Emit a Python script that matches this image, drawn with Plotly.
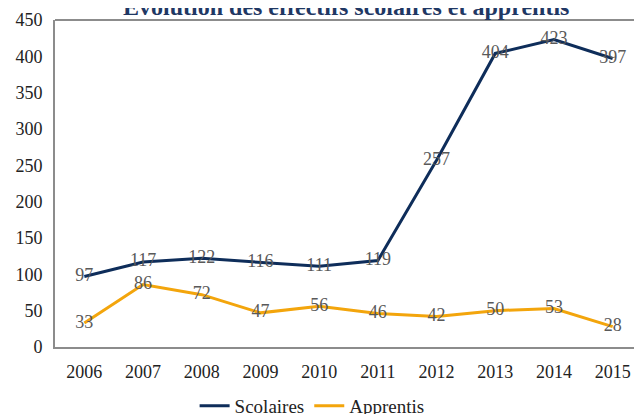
import plotly.graph_objects as go

years = ["2006", "2007", "2008", "2009", "2010", "2011", "2012", "2013", "2014", "2015"]
scolaires = [97, 117, 122, 116, 111, 119, 257, 404, 423, 397]
apprentis = [33, 86, 72, 47, 56, 46, 42, 50, 53, 28]
y_ticks = [0, 50, 100, 150, 200, 250, 300, 350, 400, 450]

FONT = "'Liberation Serif', 'Times New Roman', serif"
NAVY = "#0E2D5A"
GOLD = "#F3A50C"

fig = go.Figure()
fig.add_trace(go.Scatter(
    x=years, y=scolaires, name="Scolaires", mode="lines+text",
    line=dict(color=NAVY, width=3),
    text=[str(v) for v in scolaires], textposition="middle center",
    textfont=dict(family=FONT, size=18, color="#595959"),
    cliponaxis=False,
))
fig.add_trace(go.Scatter(
    x=years, y=apprentis, name="Apprentis", mode="lines+text",
    line=dict(color=GOLD, width=3),
    text=[str(v) for v in apprentis], textposition="middle center",
    textfont=dict(family=FONT, size=18, color="#595959"),
    cliponaxis=False,
))

fig.update_layout(
    width=642, height=414,
    margin=dict(l=47, r=8, t=12, b=75, autoexpand=False),
    paper_bgcolor="white", plot_bgcolor="white",
    font=dict(family=FONT, size=18, color="#222222"),
    showlegend=True,
    legend=dict(
        orientation="h", x=0.438, xanchor="center", y=-0.18, yanchor="middle",
        font=dict(family=FONT, size=19, color="#222222"),
        traceorder="normal",
    ),
)
fig.add_annotation(
    text="<b>Évolution des effectifs scolaires et apprentis</b>",
    xref="paper", yref="paper", x=0.496, y=1, xanchor="center", yanchor="middle",
    yshift=13, showarrow=False,
    font=dict(family=FONT, size=24, color="#1F3864"),
)
fig.update_xaxes(
    type="category", showgrid=False, showline=True, linecolor="#8C8C8C", linewidth=2,
    ticks="", tickfont=dict(family=FONT, size=18, color="#222222"),
    ticklabelstandoff=7, mirror=False, zeroline=False,
)
fig.update_yaxes(
    range=[0, 450], tickvals=y_ticks, showgrid=False, showline=True,
    linecolor="#8C8C8C", linewidth=2, ticks="", zeroline=False,
    ticklabelstandoff=7,
    tickfont=dict(family=FONT, size=18, color="#222222"),
)
# top frame line
fig.add_shape(type="line", xref="paper", yref="paper", x0=0, x1=1, y0=1, y1=1,
              line=dict(color="#8C8C8C", width=2))

fig.write_html("out.html")
